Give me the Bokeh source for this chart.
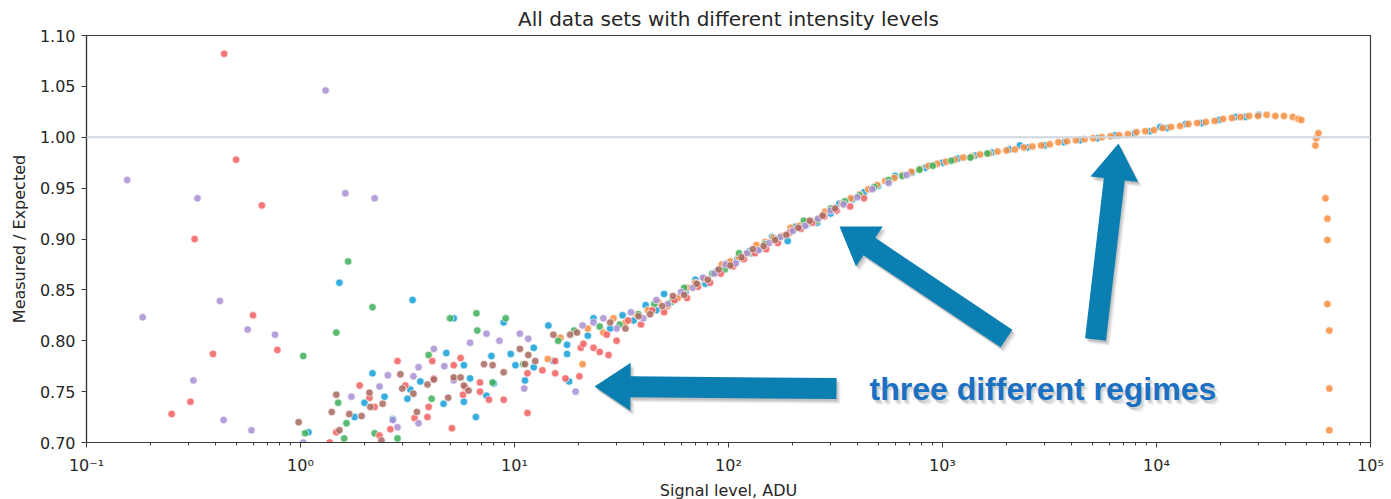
import numpy as np
from bokeh.plotting import figure
from bokeh.models import (Range1d, FixedTicker, CustomJSTickFormatter, PrintfTickFormatter,
                          Span, Label, Title)
from bokeh.embed import file_html
from bokeh.resources import INLINE

# ---------------------------------------------------------------------------
# Measured / expected ratio versus signal level (ADU), one list per data set
# ---------------------------------------------------------------------------
blue_points = [
    (1.09, 0.710), (1.52, 0.857), (1.79, 0.725), (1.99, 0.739), (2.17, 0.768), (2.47, 0.745),
    (2.7, 0.723), (3.16, 0.743), (3.26, 0.752), (3.34, 0.840), (3.63, 0.760), (4.66, 0.738),
    (4.8, 0.788), (5.2, 0.822), (5.8, 0.776), (5.8, 0.740), (6.2, 0.763), (6.6, 0.725),
    (7.4, 0.746), (7.8, 0.785), (8.0, 0.758), (8.9, 0.818), (9.6, 0.787), (10.1, 0.776),
    (11.2, 0.761), (12.3, 0.774), (12.3, 0.793), (14.4, 0.815), (15.2, 0.780), (17.6, 0.787),
    (17.6, 0.796), (18.0, 0.760), (23.4, 0.822), (22.0, 0.805),
    (28, 0.812), (32, 0.825), (36, 0.820), (41, 0.835), (46, 0.830), (50, 0.846), (57, 0.841),
    (63, 0.848), (70, 0.860), (78, 0.856), (88, 0.868), (98, 0.876), (110, 0.880), (125, 0.888),
    (140, 0.890), (160, 0.902), (189, 0.898), (205, 0.912), (232, 0.914), (260, 0.916),
    (300, 0.925), (330, 0.935), (380, 0.939), (430, 0.946), (500, 0.952),
    (600, 0.962), (720, 0.965), (830, 0.970), (1000, 0.975), (1180, 0.979), (1420, 0.982),
    (1700, 0.985), (2050, 0.988), (2300, 0.992), (2500, 0.990), (3000, 0.992), (3700, 0.995),
    (4400, 0.997), (5300, 0.999), (6400, 1.002), (7900, 1.004), (9300, 1.006), (10400, 1.010),
    (11200, 1.009), (13700, 1.013), (16300, 1.014), (19600, 1.017), (23400, 1.020),
    (26000, 1.020), (30000, 1.022),
]

orange_points = [
    (14.3, 0.782), (16.4, 0.803), (20.8, 0.777), (22, 0.812), (26, 0.808), (29, 0.822),
    (33, 0.818), (37, 0.826), (42, 0.830), (47, 0.838), (52, 0.834), (58, 0.842), (64, 0.852),
    (70, 0.857), (77, 0.861), (85, 0.866), (93, 0.875), (102, 0.878), (112, 0.882), (123, 0.886),
    (135, 0.894), (148, 0.897), (162, 0.901), (178, 0.903), (195, 0.911), (214, 0.913),
    (235, 0.917), (258, 0.919), (283, 0.927), (310, 0.930), (340, 0.935), (373, 0.940),
    (410, 0.944), (450, 0.949), (494, 0.953), (540, 0.957), (595, 0.960), (650, 0.963),
    (715, 0.966), (785, 0.969), (860, 0.972), (945, 0.974), (1040, 0.976), (1140, 0.978),
    (1250, 0.980), (1370, 0.981), (1500, 0.983), (1650, 0.984), (1810, 0.986), (1990, 0.987),
    (2180, 0.988), (2400, 0.990), (2630, 0.991), (2890, 0.992), (3170, 0.993), (3480, 0.995),
    (3820, 0.996), (4200, 0.997), (4610, 0.998), (5060, 0.999), (5550, 1.000), (6100, 1.001),
    (6700, 1.002), (7350, 1.003), (8070, 1.005), (8860, 1.006), (9730, 1.007), (10700, 1.009),
    (11700, 1.010), (12900, 1.011), (14100, 1.013), (15500, 1.014), (17000, 1.015),
    (18700, 1.016), (20500, 1.018), (22500, 1.019), (24700, 1.020), (27100, 1.021),
    (29800, 1.021), (32700, 1.022), (35900, 1.021), (39400, 1.021), (43300, 1.020),
    (46000, 1.018), (47500, 1.017),
    (55300, 0.992), (55800, 0.999), (57100, 1.004),
    (61600, 0.940), (62900, 0.920), (62900, 0.899), (62900, 0.836), (64200, 0.810),
    (64200, 0.753), (64200, 0.712),
]

green_points = [
    (1.03, 0.785), (1.05, 0.709), (1.47, 0.808), (1.5, 0.739), (1.6, 0.704), (1.64, 0.719),
    (1.67, 0.878), (2.17, 0.833), (2.22, 0.709), (2.84, 0.704), (3.97, 0.786), (4.1, 0.743),
    (5.0, 0.822), (6.64, 0.827), (6.7, 0.810), (7.9, 0.759), (9.1, 0.822), (11.0, 0.777),
    (16, 0.800), (19, 0.810), (25, 0.814), (31, 0.816), (38, 0.826), (45, 0.836), (54, 0.838),
    (62, 0.852), (72, 0.855), (84, 0.866), (96, 0.870), (112, 0.886), (128, 0.886),
    (148, 0.895), (170, 0.900), (195, 0.907), (225, 0.918), (260, 0.918), (300, 0.930),
    (350, 0.937), (410, 0.943), (480, 0.951), (560, 0.958), (650, 0.962), (780, 0.968),
    (900, 0.972), (1100, 0.977), (1350, 0.980), (1620, 0.984),
]

red_points = [
    (0.25, 0.728), (0.306, 0.740), (0.32, 0.900), (0.39, 0.787), (0.44, 1.082), (0.50, 0.978),
    (0.60, 0.825), (0.66, 0.933), (0.78, 0.791), (1.37, 0.700), (1.47, 0.710), (1.89, 0.756),
    (2.1, 0.744), (2.22, 0.735), (2.34, 0.707), (2.63, 0.713), (2.84, 0.780), (3.09, 0.756),
    (3.41, 0.724), (3.92, 0.725), (3.97, 0.735), (4.13, 0.780), (4.19, 0.763), (5.1, 0.714),
    (5.2, 0.776), (5.6, 0.783), (5.75, 0.747), (5.9, 0.754), (6.9, 0.759), (6.9, 0.750),
    (7.6, 0.742), (8.9, 0.742), (11.5, 0.768), (11.5, 0.729), (13.5, 0.771), (15.5, 0.768),
    (15.5, 0.780), (17.3, 0.763), (20.1, 0.765), (20.4, 0.793), (21, 0.797), (23.4, 0.793),
    (25, 0.789), (27.5, 0.786), (27, 0.806), (30, 0.800), (34, 0.820), (39, 0.816),
    (44, 0.830), (50, 0.828), (56, 0.840), (64, 0.842), (72, 0.853), (82, 0.857), (92, 0.866),
    (105, 0.873), (118, 0.880), (133, 0.886), (150, 0.890), (170, 0.896), (192, 0.906),
    (218, 0.910), (246, 0.916), (280, 0.922), (320, 0.928), (370, 0.932), (430, 0.940),
]

purple_points = [
    (0.155, 0.958), (0.183, 0.823), (0.316, 0.761), (0.33, 0.940), (0.42, 0.839), (0.437, 0.722),
    (0.566, 0.811), (0.59, 0.712), (0.76, 0.806), (1.03, 0.700), (1.31, 1.046), (1.62, 0.945),
    (1.73, 0.745), (2.22, 0.940), (2.34, 0.755), (2.56, 0.766), (2.7, 0.722), (2.84, 0.715),
    (3.37, 0.765), (3.56, 0.774), (3.56, 0.719), (4.2, 0.792), (4.7, 0.775), (5.2, 0.761),
    (6.2, 0.798), (7.4, 0.807), (8.5, 0.800), (10.6, 0.807), (11.1, 0.753), (11.6, 0.802),
    (19.3, 0.750), (20.8, 0.815), (23.4, 0.818), (26, 0.822), (30, 0.812), (35, 0.828),
    (40, 0.822), (46, 0.840), (52, 0.836), (60, 0.848), (68, 0.852), (76, 0.862), (86, 0.866),
    (97, 0.875), (108, 0.876), (122, 0.886), (138, 0.889), (155, 0.896), (175, 0.902),
    (200, 0.908), (228, 0.913), (262, 0.920), (300, 0.928), (345, 0.934), (400, 0.941),
    (470, 0.949), (560, 0.955), (680, 0.963),
]

brown_points = [
    (0.98, 0.720), (1.4, 0.730), (1.47, 0.747), (1.52, 0.712), (1.69, 0.728), (1.93, 0.726),
    (2.1, 0.749), (2.12, 0.735), (2.39, 0.702), (2.42, 0.738), (2.93, 0.767), (2.99, 0.753),
    (3.37, 0.748), (3.5, 0.730), (3.92, 0.757), (4.2, 0.762), (4.9, 0.744), (5.2, 0.764),
    (5.6, 0.764), (5.8, 0.756), (6.1, 0.751), (7.2, 0.777), (7.9, 0.776), (8.9, 0.769),
    (10.6, 0.792), (11.2, 0.777), (11.6, 0.786), (12.5, 0.780), (15.2, 0.806), (18.2, 0.806),
    (19.6, 0.808), (28, 0.818), (33, 0.812), (38, 0.824), (43, 0.826), (49, 0.834), (55, 0.844),
    (62, 0.845), (71, 0.856), (80, 0.860), (90, 0.870), (102, 0.874), (115, 0.882),
    (130, 0.890), (146, 0.893), (165, 0.899), (186, 0.904), (212, 0.911), (240, 0.918),
    (275, 0.923), (315, 0.930),
]

# drawing order and colours of the data sets
series = [
    (blue_points, "#129fd8"),
    (orange_points, "#f98d3e"),
    (green_points, "#3eaf5a"),
    (red_points, "#f25f5f"),
    (purple_points, "#a98fd2"),
    (brown_points, "#a8695f"),
]

x_tick_exponents = [-1, 0, 1, 2, 3, 4, 5]
y_ticks = [0.70, 0.75, 0.80, 0.85, 0.90, 0.95, 1.00, 1.05, 1.10]
reference_level = 1.00

X_MIN, X_MAX = 0.1, 1e5
Y_MIN, Y_MAX = 0.70, 1.10

# frame geometry (screen pixels)
LEFT, TOP = 86, 35
FRAME_W, FRAME_H = 1284, 407
WIDTH, HEIGHT = 1391, 499

FONT = "DejaVu Sans"
INK = "#262626"

p = figure(
    frame_width=FRAME_W, frame_height=FRAME_H,
    x_axis_type="log",
    x_range=Range1d(X_MIN, X_MAX), y_range=Range1d(Y_MIN, Y_MAX),
    output_backend="svg", toolbar_location=None,
    min_border_left=LEFT, min_border_top=TOP,
    min_border_right=WIDTH - LEFT - FRAME_W, min_border_bottom=HEIGHT - TOP - FRAME_H,
    background_fill_color="white", border_fill_color="white",
)

p.title = Title(text="All data sets with different intensity levels", align="center",
                text_font=FONT, text_font_size="20px", text_font_style="normal",
                text_color=INK, standoff=9)

p.xgrid.visible = False
p.ygrid.visible = False
p.outline_line_color = "#3a3a3a"
p.outline_line_width = 1.2
p.outline_line_alpha = 1.0

# axes
major_x = [10.0 ** e for e in x_tick_exponents]
minor_x = [m * 10.0 ** e for e in x_tick_exponents[:-1] for m in range(2, 10)]
p.xaxis.ticker = FixedTicker(ticks=major_x, minor_ticks=minor_x)
p.xaxis.formatter = CustomJSTickFormatter(code="""
    const sup = {"-": "\u207b", "0": "\u2070", "1": "\u00b9", "2": "\u00b2", "3": "\u00b3",
                 "4": "\u2074", "5": "\u2075", "6": "\u2076", "7": "\u2077", "8": "\u2078", "9": "\u2079"};
    const e = Math.round(Math.log10(tick));
    return "10" + String(e).split("").map(c => sup[c]).join("");
""")
p.yaxis.ticker = FixedTicker(ticks=y_ticks)
p.yaxis.formatter = PrintfTickFormatter(format="%.2f")

p.xaxis.axis_label = "Signal level, ADU"
p.yaxis.axis_label = "Measured / Expected"
for ax in (p.xaxis[0], p.yaxis[0]):
    ax.axis_line_color = "#3a3a3a"
    ax.axis_line_width = 1.2
    ax.major_tick_line_color = "#3a3a3a"
    ax.minor_tick_line_color = "#3a3a3a"
    ax.major_tick_out = 5
    ax.major_tick_in = 0
    ax.minor_tick_out = 3
    ax.minor_tick_in = 0
    ax.major_label_text_font = FONT
    ax.major_label_text_font_size = "16px"
    ax.major_label_text_color = INK
    ax.axis_label_text_font = FONT
    ax.axis_label_text_font_size = "16px"
    ax.axis_label_text_font_style = "normal"
    ax.axis_label_text_color = INK
p.xaxis.major_label_standoff = 8
p.xaxis.axis_label_standoff = 3
p.yaxis.major_label_standoff = 6
p.yaxis.axis_label_standoff = 8
p.yaxis.minor_tick_line_color = None

# horizontal reference at unity
p.add_layout(Span(location=reference_level, dimension="width",
                  line_color="#cfd6dd", line_width=2.2))

# scatter of every data set
for pts, color in series:
    xs = [a for a, _ in pts]
    ys = [b for _, b in pts]
    p.scatter(xs, ys, size=7.5, fill_color=color, fill_alpha=0.85,
              line_color="white", line_width=0.7, line_alpha=0.9)


# --- callout arrows and caption --------------------------------------------
def to_data(px, py):
    fx = (px - LEFT) / FRAME_W
    fy = (py - TOP) / FRAME_H
    lx0, lx1 = np.log10(X_MIN), np.log10(X_MAX)
    return 10 ** (lx0 + fx * (lx1 - lx0)), Y_MAX - fy * (Y_MAX - Y_MIN)


def arrow_outline(tail, tip, shaft_half, head_len, head_half):
    t = np.array(tail, float)
    h = np.array(tip, float)
    u = (h - t) / np.hypot(*(h - t))
    n = np.array([-u[1], u[0]])
    base = h - u * head_len
    return [t + n * shaft_half, base + n * shaft_half, base + n * head_half, h,
            base - n * head_half, base - n * shaft_half, t - n * shaft_half]


ARROW_COLOR = "#0b7fb1"
arrows = [
    ((836, 388), (594, 386)),
    ((1006, 338), (839, 226)),
    ((1095, 339), (1118, 143)),
]
for tail, tip in arrows:
    outline = arrow_outline(tail, tip, 10.5, 36, 24)
    for dx, dy, a in [(4, 5, 0.06), (3, 4, 0.08), (2, 3, 0.10), (1, 2, 0.10)]:
        pts = [to_data(q[0] + dx, q[1] + dy) for q in outline]
        p.patch([q[0] for q in pts], [q[1] for q in pts],
                fill_color="#333333", fill_alpha=a, line_color=None)
    pts = [to_data(q[0], q[1]) for q in outline]
    p.patch([q[0] for q in pts], [q[1] for q in pts],
            fill_color=ARROW_COLOR, fill_alpha=1.0, line_color=None)

CAPTION = "three different regimes"
cap_x, cap_y = to_data(869, 388)
for dx, dy, a in [(4, -5, 0.06), (3, -4, 0.08), (2, -3, 0.10), (1, -2, 0.10)]:
    p.add_layout(Label(x=cap_x, y=cap_y, x_offset=dx, y_offset=dy, text=CAPTION,
                       text_font="Liberation Sans", text_font_style="bold",
                       text_font_size="32px", text_color="#333333", text_alpha=a,
                       text_baseline="alphabetic", text_align="left"))
p.add_layout(Label(x=cap_x, y=cap_y, text=CAPTION,
                   text_font="Liberation Sans", text_font_style="bold",
                   text_font_size="32px", text_color="#1a70c2",
                   text_baseline="alphabetic", text_align="left"))

open("out.html", "w").write(file_html(p, INLINE))
